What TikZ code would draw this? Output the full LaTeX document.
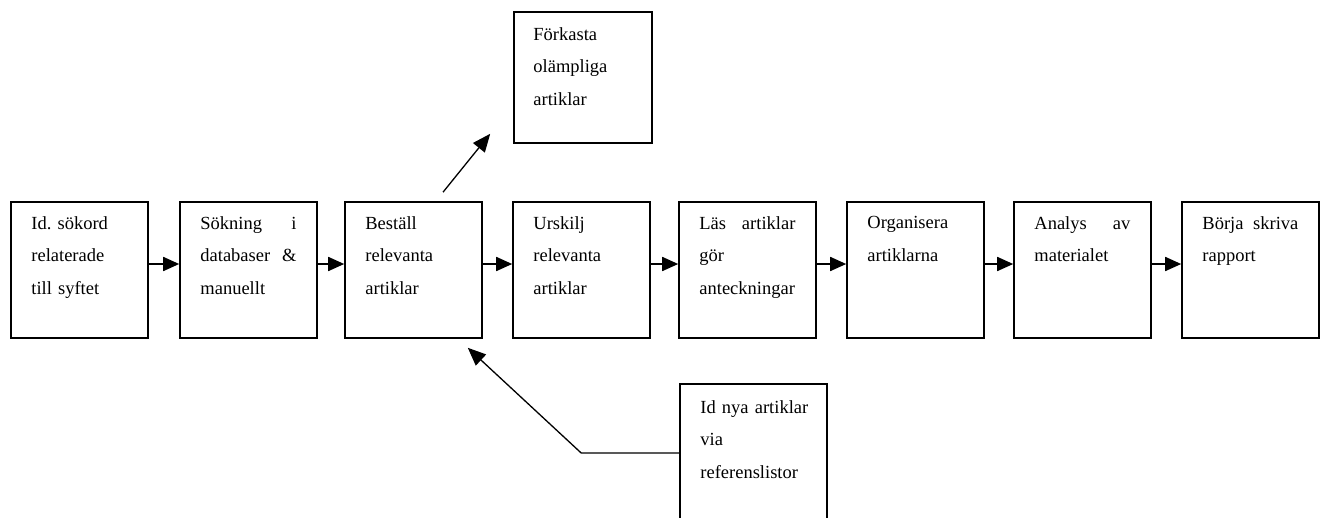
\documentclass[tikz,border=0pt]{standalone}
\usepackage{fontspec}
\setmainfont{Liberation Serif}
\usetikzlibrary{arrows.meta}
\begin{document}
\begin{tikzpicture}[x=1pt,y=-1pt,
  box/.style={draw, line width=1.6pt, minimum width=137pt, minimum height=136pt, inner sep=0pt},
  txt/.style={anchor=north west, inner sep=0pt, text width=96pt, align=left, font=\fontsize{18.5}{32.5}\selectfont},
  flow/.style={line width=1.7pt, -{Triangle[length=16pt,width=14pt]}},
  side/.style={line width=1.3pt, -{Triangle[length=18pt,width=15pt]}}]
\clip (0,0) rectangle (1322,517);
% main row
\node[box] (b1) at (79.5,270) {};
\node[box] (b2) at (248.5,270) {};
\node[box] (b3) at (413.5,270) {};
\node[box] (b4) at (581.5,270) {};
\node[box] (b5) at (747.5,270) {};
\node[box] (b6) at (915.5,270) {};
\node[box] (b7) at (1082.5,270) {};
\node[box] (b8) at (1250.5,270) {};
\node[txt] (t1) at ([shift={(21,15)}]b1.north west) {Id.\ sökord\\relaterade\\till syftet};
\node[txt] (t2) at ([shift={(21,15)}]b2.north west) {Sökning\hfill i\\databaser\hfill \&\\manuellt};
\node[txt] (t3) at ([shift={(21,15)}]b3.north west) {Beställ\\relevanta\\artiklar};
\node[txt] (t4) at ([shift={(21,15)}]b4.north west) {Urskilj\\relevanta\\artiklar};
\node[txt] (t5) at ([shift={(21,15)}]b5.north west) {Läs\hfill artiklar\\gör\\anteckningar};
\node[txt] (t6) at ([shift={(21,15)}]b6.north west) {Organisera\\artiklarna};
\node[txt] (t7) at ([shift={(21,15)}]b7.north west) {Analys\hfill av\\materialet};
\node[txt] (t8) at ([shift={(21,15)}]b8.north west) {Börja\hfill skriva\\rapport};
\foreach \a/\b in {b1/b2,b2/b3,b3/b4,b4/b5,b5/b6,b6/b7,b7/b8}
  \draw[flow] ([yshift=6pt]\a.east) -- ([yshift=6pt]\b.west);
% reject box
\node[box, minimum width=138pt, minimum height=131pt] (f) at (583,77.5) {};
\node[txt] (tf) at ([shift={(20,16)}]f.north west) {Förkasta\\olämpliga\\artiklar};
\coordinate (fs) at ([shift={(29.5,-9)}]b3.north);
\coordinate (ft) at ([shift={(-23,-10)}]f.south west);
\draw[side] (fs) -- (ft);
% new articles box
\node[box, minimum width=147pt, minimum height=138pt] (n) at (753.5,453) {};
\node[txt, text width=112pt] (tn) at ([shift={(21,17)}]n.north west) {Id nya artiklar\\via\\referenslistor};
\coordinate (bend) at ([xshift=-98pt]n.west);
\coordinate (bt) at ([shift={(-15,9)}]b3.south east);
\draw[side] (n.west) -- (bend) -- (bt);
\end{tikzpicture}
\end{document}
